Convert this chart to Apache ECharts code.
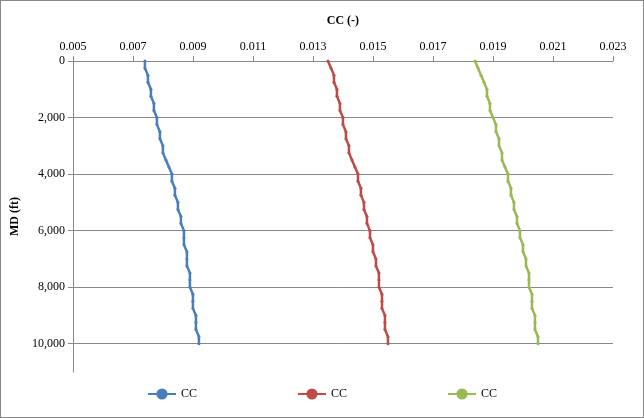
<!DOCTYPE html><html><head><meta charset="utf-8"><script src="https://cdn.jsdelivr.net/npm/echarts@6/dist/echarts.min.js"></script>
<style>body{margin:0}#c{width:642px;height:416px;border:1px solid #888}</style></head><body><div id="c"></div><script>
const depths=[0,250,500,750,1000,1250,1500,1750,2000,2250,2500,2750,3000,3250,3500,3750,4000,4250,4500,4750,5000,5250,5500,5750,6000,6250,6500,6750,7000,7250,7500,7750,8000,8250,8500,8750,9000,9250,9500,9750,10000];
const blue=[0.0074,0.0074,0.0075,0.0075,0.0076,0.0076,0.0077,0.0077,0.0078,0.0078,0.0079,0.0079,0.0080,0.0080,0.0081,0.0082,0.0083,0.0083,0.0084,0.0084,0.0085,0.0085,0.0086,0.0086,0.0087,0.0087,0.0087,0.0088,0.0088,0.0088,0.0089,0.0089,0.0089,0.0090,0.0090,0.0090,0.0091,0.0091,0.0091,0.0092,0.0092];
const red=[0.0135,0.0136,0.0137,0.0137,0.0138,0.0138,0.0139,0.0139,0.0140,0.0140,0.0141,0.0141,0.0142,0.0142,0.0143,0.0144,0.0145,0.0145,0.0146,0.0146,0.0147,0.0147,0.0148,0.0148,0.0149,0.0149,0.0150,0.0150,0.0151,0.0151,0.0152,0.0152,0.0152,0.0153,0.0153,0.0153,0.0154,0.0154,0.0154,0.0155,0.0155];
const green=[0.0184,0.0185,0.0186,0.0187,0.0188,0.0188,0.0189,0.0189,0.0190,0.0191,0.0191,0.0192,0.0192,0.0193,0.0193,0.0194,0.0195,0.0195,0.0196,0.0196,0.0197,0.0197,0.0198,0.0198,0.0199,0.0199,0.0200,0.0200,0.0201,0.0201,0.0202,0.0202,0.0202,0.0203,0.0203,0.0203,0.0204,0.0204,0.0204,0.0205,0.0205];
const xTicks=[0.005,0.023];
const cols=['#4a7ebb','#be4b48','#98b954'];
const pair=a=>a.map((v,i)=>[v,depths[i]]);
const ch=echarts.init(document.getElementById('c'));
const f='Liberation Serif';
ch.setOption({animation:false,textStyle:{fontFamily:f},
grid:{left:68,right:30,top:60,bottom:45},
legend:{bottom:12,itemGap:100,itemWidth:28,textStyle:{fontFamily:f,fontSize:12,color:'#000'},data:[0,1,2].map(i=>({name:'s'+i})),formatter:n=>'CC'},
xAxis:{type:'value',position:'top',min:xTicks[0],max:xTicks[1],interval:0.002,name:'CC (-)',nameLocation:'middle',nameGap:34,nameTextStyle:{fontWeight:'bold',fontSize:12,color:'#000'},
axisLabel:{color:'#000',fontSize:12,formatter:v=>v.toFixed(3)},axisLine:{lineStyle:{color:'#888'}},axisTick:{show:true,lineStyle:{color:'#888'}},splitLine:{show:false}},
yAxis:{type:'value',inverse:true,min:0,max:11000,interval:2000,name:'MD (ft)',nameLocation:'middle',nameGap:44,nameTextStyle:{fontWeight:'bold',fontSize:12,color:'#000'},
axisLabel:{color:'#000',fontSize:12,showMaxLabel:false,formatter:v=>v>10000?'':v.toLocaleString('en-US')},axisLine:{show:true,lineStyle:{color:'#888'}},axisTick:{show:true,lineStyle:{color:'#888'}},
splitLine:{showMaxLine:false,lineStyle:{color:'#888'}}},
series:[blue,red,green].map((a,i)=>({name:'s'+i,type:'line',data:pair(a),color:cols[i],symbol:'circle',symbolSize:3,lineStyle:{width:2.5}}))
});
</script></body></html>
